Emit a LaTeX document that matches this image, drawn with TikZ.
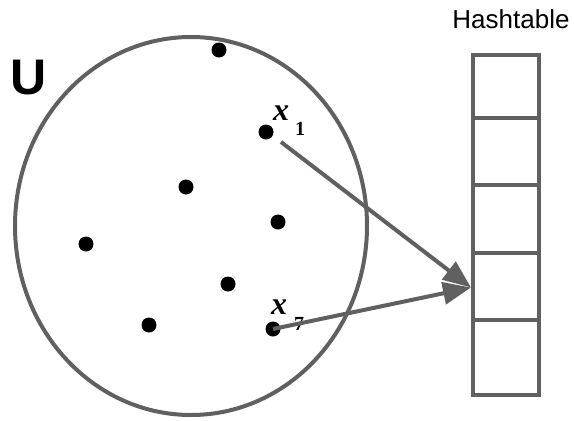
\documentclass[tikz,border=0pt]{standalone}
\usepackage{fontspec}
\setmainfont{Liberation Sans}
\newfontfamily\varfont{Liberation Serif}
\usetikzlibrary{arrows.meta}
\definecolor{edgegray}{HTML}{606060}
\begin{document}
\begin{tikzpicture}[x=1pt,y=-1pt,
  pt/.style={circle,fill=black,inner sep=0pt,minimum size=15pt},
  cell/.style={draw=edgegray,line width=4pt,minimum width=66pt,inner sep=0pt,anchor=north},
  link/.style={draw=edgegray,line width=4pt,-{Triangle[length=28pt,width=22pt]}},
  var/.style={font=\varfont\bfseries\itshape\fontsize{32}{32}\selectfont},
  sub/.style={font=\varfont\bfseries\fontsize{20}{20}\selectfont}]
\useasboundingbox (0,0) rectangle (574,421);
% the universe of keys
\draw[edgegray,line width=4pt] (191,226) ellipse [x radius=176,y radius=189];
\node[font=\bfseries\fontsize{50}{50}\selectfont] (U) at (29,78) {U};
% keys
\node[pt] (k1) at (219,50) {};
\node[pt] (x1) at (266,132) {};
\node[pt] (k3) at (186,187) {};
\node[pt] (k4) at (278,222) {};
\node[pt] (k5) at (86,244) {};
\node[pt] (k6) at (228,284) {};
\node[pt] (k7) at (149,325) {};
\node[pt] (x7) at (273,329) {};
\node[var] (x1l) at (281,113) {x};
\node[sub] (x1s) at (300,129) {1};
\node[var] (x7l) at (279,307) {x};
\node[sub] (x7s) at (299,324) {7};
% hash table
\node[font=\fontsize{26}{26}\selectfont] (ht) at (511,19) {Hashtable};
\node[cell,minimum height=63pt] (c1) at (506,53) {};
\node[cell,minimum height=67pt] (c2) at (506,116) {};
\node[cell,minimum height=68pt] (c3) at (506,183) {};
\node[cell,minimum height=67pt] (c4) at (506,251) {};
\node[cell,minimum height=75pt] (c5) at (506,318) {};
\coordinate (hit) at ([yshift=-1pt]c4.west);
\coordinate (s1) at (281,142);
% hashing arrows, both landing on the same slot
\draw[link] (s1) -- (hit);
\draw[link] (x7.center) -- (hit);
\end{tikzpicture}
\end{document}
